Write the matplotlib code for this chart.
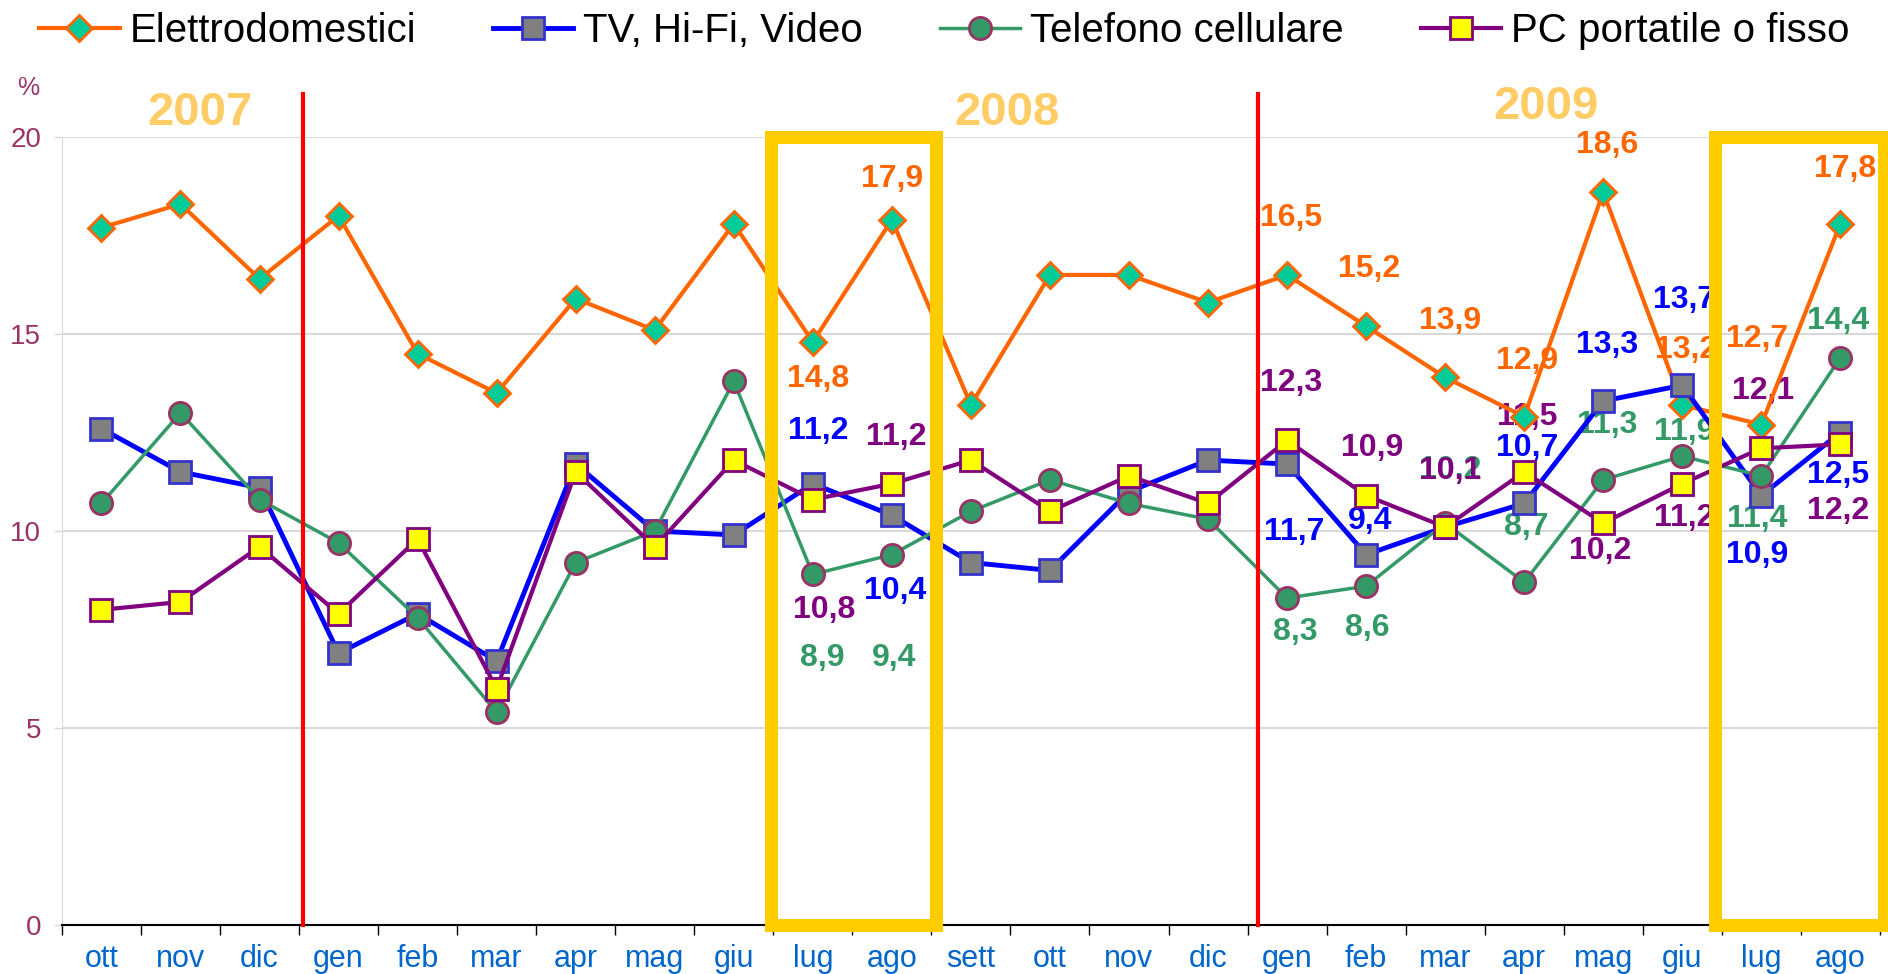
import matplotlib
matplotlib.use("Agg")
import matplotlib.pyplot as plt
from matplotlib.patches import Rectangle

plt.rcParams['font.family'] = ['Liberation Sans', 'DejaVu Sans']

# mesi da ottobre 2007 ad agosto 2009
mesi = ['ott', 'nov', 'dic', 'gen', 'feb', 'mar', 'apr', 'mag', 'giu', 'lug', 'ago',
        'sett', 'ott', 'nov', 'dic', 'gen', 'feb', 'mar', 'apr', 'mag', 'giu', 'lug', 'ago']

elettrodomestici = [17.7, 18.3, 16.4, 18.0, 14.5, 13.5, 15.9, 15.1, 17.8, 14.8, 17.9,
                    13.2, 16.5, 16.5, 15.8, 16.5, 15.2, 13.9, 12.9, 18.6, 13.2, 12.7, 17.8]
tv_hifi = [12.6, 11.5, 11.1, 6.9, 7.9, 6.7, 11.7, 10.0, 9.9, 11.2, 10.4,
           9.2, 9.0, 11.0, 11.8, 11.7, 9.4, 10.1, 10.7, 13.3, 13.7, 10.9, 12.5]
telefono = [10.7, 13.0, 10.8, 9.7, 7.8, 5.4, 9.2, 10.0, 13.8, 8.9, 9.4,
            10.5, 11.3, 10.7, 10.3, 8.3, 8.6, 10.2, 8.7, 11.3, 11.9, 11.4, 14.4]
pc = [8.0, 8.2, 9.6, 7.9, 9.8, 6.0, 11.5, 9.6, 11.8, 10.8, 11.2,
      11.8, 10.5, 11.4, 10.7, 12.3, 10.9, 10.1, 11.5, 10.2, 11.2, 12.1, 12.2]

serie = ['Elettrodomestici', 'TV, Hi-Fi, Video', 'Telefono cellulare', 'PC portatile o fisso']
anni = ['2007', '2008', '2009']

# stile delle serie: colore linea, marker, riempimento, bordo, dimensione, spessore
stili = [
    ('#FF6600', 'D', '#00CC99', '#FF6600', 13.5, 3.0),
    ('#0000FF', 's', '#808080', '#3333CC', 16, 3.5),
    ('#339966', 'o', '#339966', '#993366', 16, 2.5),
    ('#800080', 's', '#FFFF00', '#800080', 16, 3.0),
]

# posizione delle etichette (pixel, dx e dy verso il basso)
offs = [
    {9: (5, 37), 10: (0, -41), 15: (4, -57), 16: (3, -57), 17: (5, -56), 18: (3, -56),
     19: (4, -47), 20: (4, -55), 21: (-4, -86), 22: (5, -55)},
    {9: (5, -53), 10: (3, 76), 15: (7, 68), 16: (4, -34), 18: (3, -55), 19: (4, -56),
     20: (2, -85), 21: (-4, 59), 22: (-2, 42)},
    {9: (9, 84), 10: (2, 103), 15: (8, 34), 16: (1, 42), 17: (5, -53), 18: (2, -55),
     19: (4, -55), 20: (2, -24), 21: (-4, 43), 22: (-2, -37)},
    {9: (11, 110), 10: (4, -47), 15: (4, -57), 16: (6, -48), 17: (5, -56), 18: (3, -55),
     19: (-3, 28), 20: (2, 34), 21: (2, -57), 22: (-2, 67)},
]

fig = plt.figure(figsize=(18.88, 9.74), dpi=100)
ax = fig.add_axes([0.0328, 0.0503, 0.9629, 0.809])

x = list(range(len(mesi)))
valori = [elettrodomestici, tv_hifi, telefono, pc]
handles = []
for nome, vals, st, off in zip(serie, valori, stili, offs):
    col, mk, fc, ec, ms, lw = st
    h, = ax.plot(x, vals, color=col, lw=lw, marker=mk, markerfacecolor=fc,
                 markeredgecolor=ec, markersize=ms, markeredgewidth=2, zorder=3,
                 clip_on=False, label=nome)
    handles.append(h)
    for i, (dx, dy) in off.items():
        ax.annotate(f"{vals[i]:.1f}".replace('.', ','), (x[i], vals[i]),
                    xytext=(dx, -dy), textcoords='offset pixels',
                    ha='center', va='center', fontsize=23, fontweight='bold',
                    color=col, zorder=2.5, annotation_clip=False)

# separatori tra gli anni
for xs in [2.55, 14.63]:
    ax.plot([xs, xs], [0, 21.1], color='#FF0000', lw=3, zorder=4, clip_on=False)

# riquadri lug-ago
for x0, x1 in [(8.47, 10.56), (20.41, 22.55)]:
    ax.add_patch(Rectangle((x0, 0), x1 - x0, 20, fill=False, edgecolor='#FFCC00',
                           lw=9.4, zorder=5, clip_on=False))

for xa, ya, anno in zip([1.25, 11.46, 18.27], [20.3, 20.3, 20.45], anni):
    ax.text(xa, ya, anno, ha='center', va='baseline', fontsize=34,
            fontweight='bold', color='#FFCC66', zorder=6)

ax.set_xlim(-0.5, 22.5)
ax.set_ylim(0, 20)
ax.set_yticks([0, 5, 10, 15, 20])
ax.set_xticks(x)
ax.set_xticklabels(mesi)
ax.set_xticks([i - 0.5 for i in range(len(mesi) + 1)], minor=True)
ax.tick_params(axis='x', which='major', length=0, pad=14, labelsize=22, labelcolor='#0066CC')
ax.tick_params(axis='x', which='minor', length=7.2, width=1, color='black', direction='out')
ax.tick_params(axis='y', length=5.8, width=1, color='#D9D9D9', pad=9,
               labelsize=20, labelcolor='#993366')
ax.grid(axis='y', color='#D9D9D9', lw=1.5)
ax.set_axisbelow(True)
for s in ['top', 'right']:
    ax.spines[s].set_visible(False)
ax.spines['left'].set_color('#D9D9D9')
ax.spines['bottom'].set_color('black')
ax.spines['bottom'].set_linewidth(1.5)

fig.text(0.0148, 0.91, '%', ha='center', va='center', fontsize=18, color='#993366')

fig.legend(handles=handles, loc='center left', bbox_to_anchor=(0.0207, 0.968),
           ncol=4, frameon=False, fontsize=29, handlelength=2.0, handletextpad=0.25,
           columnspacing=1.9, borderpad=0, borderaxespad=0)

fig.savefig('out.png', dpi=100)
